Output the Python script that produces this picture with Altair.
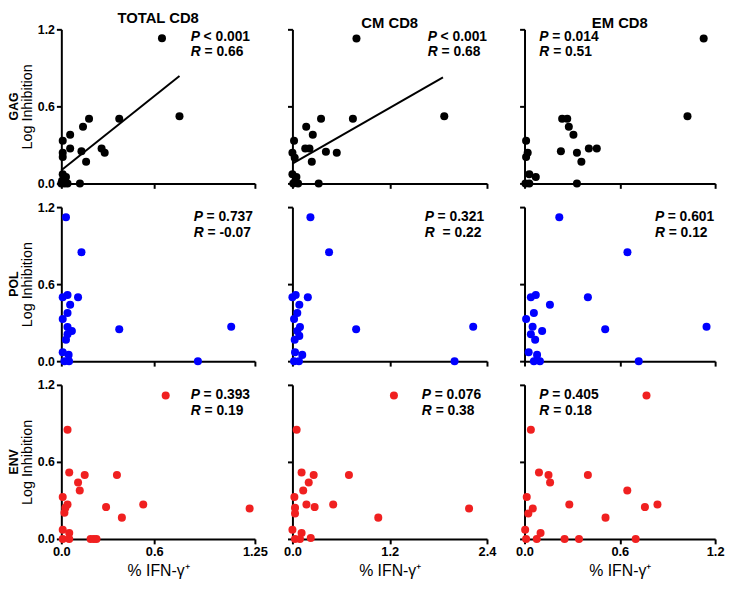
import altair as alt
import pandas as pd

FONT = "Liberation Sans"

columns = ["TOTAL CD8", "CM CD8", "EM CD8"]
rows = ["GAG", "POL", "ENV"]
row_colors = ["#000000", "#0000ff", "#f02020"]
x_max = [1.25, 2.4, 1.2]
x_ticks = [[0, 0.6, 1.25], [0, 1.2, 2.4], [0, 0.6, 1.2]]
y_ticks = [0, 0.6, 1.2]

# ---- GAG ----
gag_total_x = [0.65, 0.763, 0.179, 0.374, 0.14, 0.057, 0.009, 0.057, 0.13, 0.009, 0.009, 0.26, 0.28, 0.16, 0.009, 0.03, 0.005, 0.02, 0.04, 0.12, 0.0]
gag_total_y = [1.13, 0.523, 0.503, 0.503, 0.441, 0.379, 0.333, 0.272, 0.251, 0.238, 0.205, 0.272, 0.238, 0.169, 0.072, 0.05, 0.02, 0.0, 0.0, 0.0, 0.0]
gag_cm_x = [0.79, 1.873, 0.353, 0.746, 0.17, 0.251, 0.02, 0.158, 0.21, 0.413, 0.547, 0.0, 0.028, 0.239, 0.0, 0.049, 0.01, 0.07, 0.324, 0.03]
gag_cm_y = [1.128, 0.523, 0.503, 0.503, 0.441, 0.379, 0.333, 0.272, 0.272, 0.246, 0.238, 0.238, 0.2, 0.169, 0.072, 0.05, 0.0, 0.0, 0.0, 0.01]
gag_em_x = [1.128, 1.026, 0.237, 0.269, 0.279, 0.308, 0.01, 0.405, 0.455, 0.229, 0.02, 0.01, 0.33, 0.358, 0.03, 0.071, 0.006, 0.03, 0.33]
gag_em_y = [1.128, 0.523, 0.503, 0.503, 0.441, 0.379, 0.333, 0.272, 0.272, 0.251, 0.238, 0.205, 0.238, 0.169, 0.072, 0.05, 0.0, 0.0, 0.0]

# ---- POL ----
pol_total_x = [0.03, 0.13, 0.04, 0.009, 0.108, 0.057, 0.04, 0.009, 0.04, 0.068, 0.04, 0.03, 0.009, 0.047, 0.02, 0.05, 0.374, 1.097, 0.882]
pol_total_y = [1.121, 0.848, 0.516, 0.498, 0.498, 0.439, 0.375, 0.329, 0.266, 0.235, 0.209, 0.166, 0.069, 0.049, 0.0, 0.0, 0.248, 0.268, 0.0]
pol_cm_x = [0.222, 0.452, 0.04, 0.0, 0.19, 0.085, 0.06, 0.02, 0.093, 0.06, 0.085, 0.028, 0.032, 0.121, 0.02, 0.08, 0.786, 2.23, 2.0]
pol_cm_y = [1.121, 0.848, 0.516, 0.498, 0.498, 0.439, 0.375, 0.329, 0.266, 0.235, 0.197, 0.166, 0.069, 0.049, 0.0, 0.0, 0.248, 0.268, 0.0]
pol_em_x = [0.219, 0.648, 0.071, 0.04, 0.399, 0.16, 0.059, 0.01, 0.051, 0.111, 0.04, 0.067, 0.026, 0.079, 0.059, 0.097, 0.508, 1.146, 0.719]
pol_em_y = [1.121, 0.848, 0.516, 0.498, 0.498, 0.439, 0.375, 0.329, 0.268, 0.235, 0.209, 0.166, 0.069, 0.049, 0.0, 0.0, 0.248, 0.268, 0.0]

# ---- ENV ----
env_total_x = [0.674, 0.04, 0.051, 0.151, 0.359, 0.108, 0.119, 0.009, 0.04, 0.026, 0.02, 0.289, 0.529, 0.391, 1.216, 0.009, 0.051, 0.009, 0.051, 0.189, 0.21, 0.227]
env_total_y = [1.118, 0.85, 0.518, 0.498, 0.498, 0.439, 0.378, 0.327, 0.268, 0.242, 0.204, 0.248, 0.268, 0.166, 0.237, 0.071, 0.046, 0.0, 0.0, 0.0, 0.0, 0.0]
env_cm_x = [1.252, 0.052, 0.113, 0.262, 0.697, 0.201, 0.133, 0.024, 0.173, 0.274, 0.032, 0.032, 0.503, 1.059, 2.179, 0.0, 0.113, 0.226, 0.032, 0.093]
env_cm_y = [1.118, 0.85, 0.518, 0.498, 0.498, 0.439, 0.378, 0.327, 0.268, 0.248, 0.242, 0.199, 0.268, 0.166, 0.237, 0.071, 0.046, 0.008, 0.0, 0.0]
env_em_x = [0.768, 0.04, 0.091, 0.151, 0.399, 0.161, 0.647, 0.014, 0.052, 0.024, 0.282, 0.758, 0.837, 0.51, 0.004, 0.101, 0.077, 0.01, 0.252, 0.343, 0.7]
env_em_y = [1.118, 0.85, 0.518, 0.498, 0.498, 0.439, 0.378, 0.327, 0.237, 0.199, 0.268, 0.248, 0.268, 0.166, 0.071, 0.046, 0.0, 0.0, 0.0, 0.0, 0.0]

data_x = [[gag_total_x, gag_cm_x, gag_em_x],
          [pol_total_x, pol_cm_x, pol_em_x],
          [env_total_x, env_cm_x, env_em_x]]
data_y = [[gag_total_y, gag_cm_y, gag_em_y],
          [pol_total_y, pol_cm_y, pol_em_y],
          [env_total_y, env_cm_y, env_em_y]]

# statistics
p_ops = [["<", "<", "="], ["=", "=", "="], ["=", "=", "="]]
p_vals = [["0.001", "0.001", "0.014"], ["0.737", "0.321", "0.601"], ["0.393", "0.076", "0.405"]]
r_vals = [["0.66", "0.68", "0.51"], ["-0.07", "0.22", "0.12"], ["0.19", "0.38", "0.18"]]

# fitted regression lines (GAG, TOTAL and CM)
fit_total_x = [0.0, 0.763]
fit_total_y = [0.103, 0.836]
fit_cm_x = [0.0, 1.857]
fit_cm_y = [0.154, 0.826]
fits = {(0, 0): (fit_total_x, fit_total_y), (0, 1): (fit_cm_x, fit_cm_y)}

widths = [196, 197, 193]
HEIGHT = 156
# annotation placement (pixels from plot's left / top)
ann_x = [[131, 137, 15], [134, 134, 132], [131, 131, 15]]
ann_y = [[8, 23], [10, 26], [10, 27]]


def text_layer(txt, x, y, italic=False, **kw):
    return alt.Chart(pd.DataFrame({"t": [txt]})).mark_text(
        align="left", baseline="middle", font=FONT, fontSize=14, fontWeight="bold",
        fontStyle="italic" if italic else "normal", color="black", **kw
    ).encode(x=alt.value(x), y=alt.value(y), text="t:N")


def panel(r, c):
    w = widths[c]
    df = pd.DataFrame({"x": data_x[r][c], "y": data_y[r][c]})
    is_bottom = r == 2
    is_left = c == 0
    xaxis = alt.Axis(values=x_ticks[c], labels=is_bottom, labelFontSize=13,
                     labelExpr="datum.value == 1.25 ? '1.25' : format(datum.value, '.1f')",
                     labelFlush=False, titleFontSize=16, titlePadding=4)
    yaxis = alt.Axis(values=y_ticks, labels=is_left, format=".1f", labelFontSize=12.5,
                     titleFontSize=14.5, titlePadding=3)
    xs = alt.Scale(domain=[0, x_max[c]], nice=False, zero=True)
    ys = alt.Scale(domain=[0, 1.2], nice=False, zero=True)
    xenc = alt.X("x:Q", scale=xs, axis=xaxis, title="% IFN-γ⁺" if is_bottom else None)
    yenc = alt.Y("y:Q", scale=ys, axis=yaxis, title="Log Inhibition" if is_left else None)

    pts = alt.Chart(df).mark_circle(size=66, opacity=1, color=row_colors[r]).encode(x=xenc, y=yenc)
    layers = [pts]
    if (r, c) in fits:
        fx, fy = fits[(r, c)]
        ldf = pd.DataFrame({"x": fx, "y": fy})
        layers.append(alt.Chart(ldf).mark_line(color="black", strokeWidth=2).encode(
            x=alt.X("x:Q", scale=xs), y=alt.Y("y:Q", scale=ys)))
    ax = ann_x[r][c]
    ay0, ay1 = ann_y[r]
    layers.append(text_layer("P", ax, ay0, italic=True))
    layers.append(text_layer(f"{p_ops[r][c]} {p_vals[r][c]}", ax + 13, ay0))
    layers.append(text_layer("R", ax, ay1, italic=True))
    r_gap = 18 if (r, c) == (1, 1) else 14
    layers.append(text_layer(f"= {r_vals[r][c]}", ax + r_gap, ay1))
    if is_left:
        layers.append(alt.Chart(pd.DataFrame({"t": [rows[r]]})).mark_text(
            align="center", baseline="middle", angle=270, font=FONT, fontSize=12.5,
            fontWeight="bold", color="black"
        ).encode(x=alt.value(-48), y=alt.value(HEIGHT / 2), text="t:N"))
    props = dict(width=w, height=HEIGHT)
    if r == 0:
        props["title"] = alt.TitleParams(columns[c], font=FONT, fontSize=15, fontWeight="bold",
                                         color="black", offset=-3, anchor="middle", frame="group")
    return alt.layer(*layers).properties(**props)


panels = [panel(r, c) for r in range(3) for c in range(3)]

chart = alt.concat(*panels, columns=3, spacing={"row": 24, "column": 38},
                   bounds="flush", align="each").properties(padding=0).configure_axis(
    domainColor="black", domainWidth=2, tickColor="black", tickWidth=2, tickSize=5,
    labelColor="black", labelFont=FONT, labelFontWeight="bold", labelPadding=2,
    titleColor="black", titleFont=FONT, titleFontWeight="normal", grid=False
).configure_view(stroke=None)

chart.save("out.html", embed_options={"renderer": "svg", "actions": False})
